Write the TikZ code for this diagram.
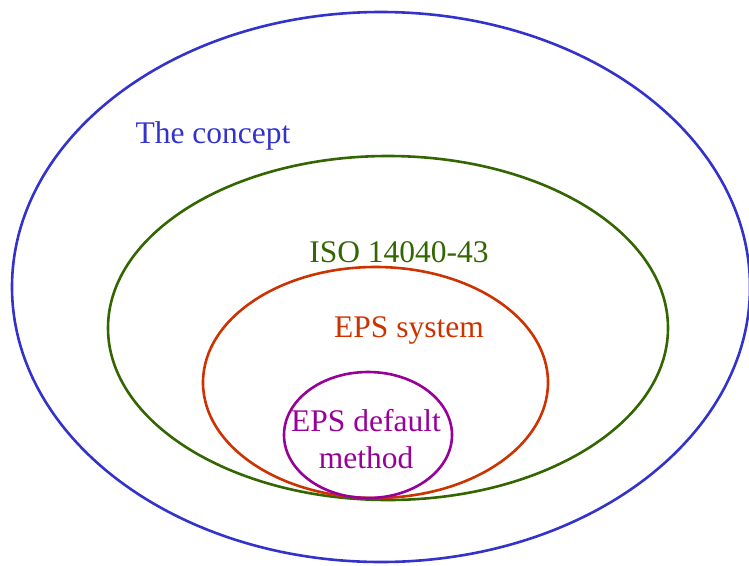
\documentclass[tikz,border=0pt]{standalone}
\usepackage{fontspec}
\setmainfont{Liberation Serif}
\definecolor{cblue}{HTML}{3333CC}
\definecolor{cgreen}{HTML}{336600}
\definecolor{corange}{HTML}{CC3300}
\definecolor{cpurple}{HTML}{990099}
\begin{document}
\begin{tikzpicture}[x=1pt,y=-1pt,
  ring/.style={line width=2.6pt},
  lbl/.style={font=\fontsize{31.5}{37}\selectfont, inner sep=0pt, anchor=base, align=center}]
\useasboundingbox (0,0) rectangle (749,565);
\begin{scope}
\clip (0,0) rectangle (749,565);
\draw[ring, cblue] (381,287) ellipse [x radius=369, y radius=275];
\end{scope}
\draw[ring, cgreen] (388,328) ellipse [x radius=280, y radius=172];
\draw[ring, corange] (375.5,382.5) ellipse [x radius=172.5, y radius=115.5];
\draw[ring, cpurple] (368,435) ellipse [x radius=84, y radius=63];
\node[lbl, text=cblue] (concept) at (213,143) {The concept};
\node[lbl, text=cgreen] (iso) at (399,262) {ISO 14040-43};
\node[lbl, text=corange] (eps) at (409,337) {EPS system};
\node[lbl, text=cpurple, anchor=base] (epsd) at (366,468) {EPS default\\method};
\end{tikzpicture}
\end{document}
